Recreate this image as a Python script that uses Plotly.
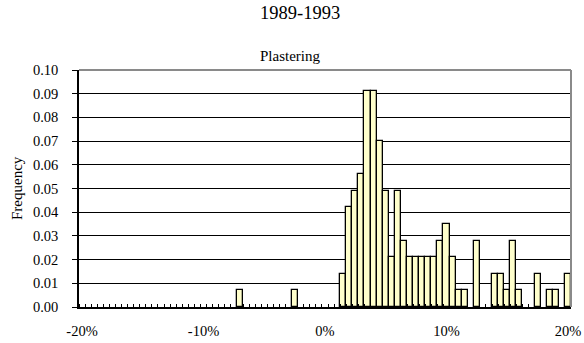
import plotly.graph_objects as go

# Category bins (% change), 0.5% steps from -20% to 20%
bins = [-20 + 0.5 * k for k in range(81)]

# Frequency per bin (index k -> bins[k])
freq = [0.0] * 81
observed = {
    -7.0: 0.007, -2.5: 0.007,
    1.5: 0.014, 2.0: 0.042, 2.5: 0.049, 3.0: 0.056, 3.5: 0.091, 4.0: 0.091,
    4.5: 0.070, 5.0: 0.049, 5.5: 0.021, 6.0: 0.049, 6.5: 0.028, 7.0: 0.021,
    7.5: 0.021, 8.0: 0.021, 8.5: 0.021, 9.0: 0.021, 9.5: 0.028, 10.0: 0.035,
    10.5: 0.021, 11.0: 0.007, 11.5: 0.007, 12.5: 0.028, 14.0: 0.014,
    14.5: 0.014, 15.0: 0.007, 15.5: 0.028, 16.0: 0.007, 17.5: 0.014,
    18.5: 0.007, 19.0: 0.007, 20.0: 0.014,
}
for i, b in enumerate(bins):
    freq[i] = observed.get(b, 0.0)

x_tick_vals = [-20, -10, 0, 10, 20]
x_tick_text = ["-20%", "-10%", "0%", "10%", "20%"]
y_tick_vals = [0.00, 0.01, 0.02, 0.03, 0.04, 0.05, 0.06, 0.07, 0.08, 0.09, 0.10]

title_text = "1989-1993"
subtitle_text = "Plastering"
y_title = "Frequency"

xs = [b for b, f in zip(bins, freq) if f > 0]
ys = [f for f in freq if f > 0]

FONT = "Liberation Serif"

fig = go.Figure()
fig.add_trace(go.Bar(
    x=xs, y=ys, width=0.5,
    marker=dict(color="#FFFFCC", line=dict(color="black", width=1.3)),
    hoverinfo="x+y",
))

W, H = 584, 343
L, R, T, B = 79, 571, 70, 307
pw, ph = R - L, B - T

fig.update_layout(
    width=W, height=H,
    margin=dict(l=L, r=W - R, t=T, b=H - B, pad=0, autoexpand=False),
    paper_bgcolor="white", plot_bgcolor="white",
    showlegend=False,
    font=dict(family=FONT, size=14.5, color="black"),
    bargap=0,
)
fig.update_xaxes(
    range=[-20.25, 20.25],
    tickvals=x_tick_vals, ticktext=x_tick_text,
    ticks="", showgrid=False, zeroline=False,
    showline=True, linecolor="black", linewidth=1.5,
    ticklabelstandoff=10, automargin=False,
    tickfont=dict(family=FONT, size=14.5),
    minor=dict(ticks="inside", ticklen=3, tick0=-20.25, dtick=0.5,
               tickcolor="black", tickwidth=1, showgrid=False),
    fixedrange=True,
)
fig.update_yaxes(
    range=[0, 0.10],
    tickvals=y_tick_vals, tickformat=".2f",
    ticks="outside", ticklen=5, tickcolor="black", tickwidth=1,
    showgrid=True, gridcolor="black", gridwidth=1,
    zeroline=False,
    showline=True, linecolor="black", linewidth=1.5,
    ticklabelstandoff=11, automargin=False,
    tickfont=dict(family=FONT, size=14.5),
    fixedrange=True,
)

# Gray plot-area border on top and right
fig.add_shape(type="line", xref="paper", yref="paper", x0=0, x1=1, y0=1, y1=1,
              line=dict(color="#8a8a8a", width=2))
fig.add_shape(type="line", xref="paper", yref="paper", x0=1, x1=1, y0=0, y1=1,
              line=dict(color="#8a8a8a", width=2))

def px_to_paper(px, py):
    return (px - L) / pw, (B - py) / ph

tx, ty = px_to_paper(299.5, 13)
fig.add_annotation(text=title_text, x=tx, y=ty, xref="paper", yref="paper",
                   showarrow=False, xanchor="center", yanchor="middle",
                   font=dict(family=FONT, size=18.5, color="black"))
sx, sy = px_to_paper(289.5, 56)
fig.add_annotation(text=subtitle_text, x=sx, y=sy, xref="paper", yref="paper",
                   showarrow=False, xanchor="center", yanchor="middle",
                   font=dict(family=FONT, size=15, color="black"))
fx, fy = px_to_paper(17, 188)
fig.add_annotation(text=y_title, x=fx, y=fy, xref="paper", yref="paper",
                   showarrow=False, xanchor="center", yanchor="middle", textangle=-90,
                   font=dict(family=FONT, size=15, color="black"))

fig.write_html(
    "out.html",
    config={"displayModeBar": False},
    post_script="document.body.style.margin='0';document.body.style.overflow='hidden';",
)
